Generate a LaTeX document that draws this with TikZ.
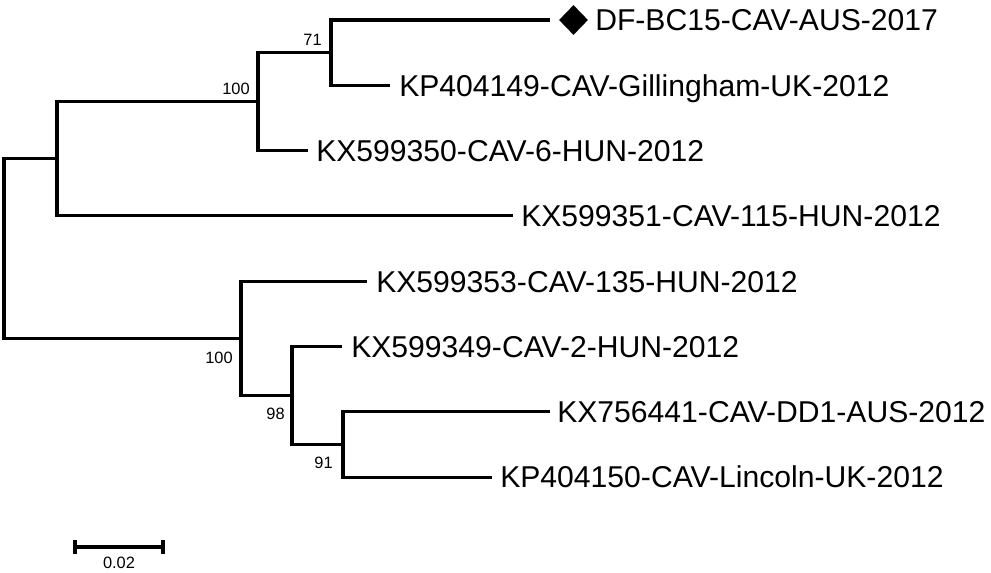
\documentclass[tikz,border=0pt]{standalone}
\usepackage{fontspec}
\setmainfont{Liberation Sans}
\usetikzlibrary{shapes.geometric,calc}
\begin{document}
\begin{tikzpicture}[x=0.75pt,y=-0.75pt,
  branch/.style={line width=2.3pt, line join=miter},
  taxon/.style={anchor=base west, inner sep=0pt, font=\fontsize{22.6}{26}\selectfont},
  bootup/.style={anchor=south east, inner sep=0pt, font=\fontsize{12.3}{14}\selectfont},
  bootdown/.style={anchor=north east, inner sep=0pt, font=\fontsize{12.3}{14}\selectfont},
  mark diamond/.style={diamond, fill=black, inner sep=0pt, minimum width=21.75pt, minimum height=22.5pt},
]
\useasboundingbox (0,0) rectangle (991,572);
% internal nodes
\coordinate (root) at (4,248.55);
\coordinate (A) at (57,158.75);
\coordinate (B) at (258,101.6);
\coordinate (C) at (331,52.65);
\coordinate (D) at (241,338.35);
\coordinate (E) at (292,395.5);
\coordinate (F) at (343,444.45);
% tips
\coordinate (t1) at (550,20);
\coordinate (t2) at (390,85.3);
\coordinate (t3) at (308,150.6);
\coordinate (t4) at (513,215.9);
\coordinate (t5) at (367,281.2);
\coordinate (t6) at (342,346.5);
\coordinate (t7) at (550,411.8);
\coordinate (t8) at (492,477.1);
% branches
\draw[branch] (root) |- (A);
\draw[branch] (root) |- (D);
\draw[branch] (A) |- (B);
\draw[branch] (A) |- (t4);
\draw[branch] (B) |- (C);
\draw[branch] (B) |- (t3);
\draw[branch] (C) |- (t1);
\draw[branch] (C) |- (t2);
\draw[branch] (D) |- (t5);
\draw[branch] (D) |- (E);
\draw[branch] (E) |- (t6);
\draw[branch] (E) |- (F);
\draw[branch] (F) |- (t7);
\draw[branch] (F) |- (t8);
% taxa
\node[mark diamond] (dm) at ($(t1)+(23.5,0)$) {};
\node[taxon] (n1) at ($(t1)+(45,10.8)$) {DF-BC15-CAV-AUS-2017};
\node[taxon] (n2) at ($(t2)+(9,10.8)$) {KP404149-CAV-Gillingham-UK-2012};
\node[taxon] (n3) at ($(t3)+(8,10.8)$) {KX599350-CAV-6-HUN-2012};
\node[taxon] (n4) at ($(t4)+(8,10.8)$) {KX599351-CAV-115-HUN-2012};
\node[taxon] (n5) at ($(t5)+(9,10.8)$) {KX599353-CAV-135-HUN-2012};
\node[taxon] (n6) at ($(t6)+(9,10.8)$) {KX599349-CAV-2-HUN-2012};
\node[taxon] (n7) at ($(t7)+(7,10.8)$) {KX756441-CAV-DD1-AUS-2012};
\node[taxon] (n8) at ($(t8)+(8,10.8)$) {KP404150-CAV-Lincoln-UK-2012};
% bootstrap values
\node[bootup] (bB) at ($(B)+(-8,-7)$) {100};
\node[bootup] (bC) at ($(C)+(-9,-7)$) {71};
\node[bootdown] (bD) at ($(D)+(-8,13)$) {100};
\node[bootdown] (bE) at ($(E)+(-7,12)$) {98};
\node[bootdown] (bF) at ($(F)+(-10,12)$) {91};
% scale bar
\coordinate (sbL) at (75,547);
\coordinate (sbR) at (163,547);
\draw[branch] (sbL) -- (sbR);
\draw[branch] ($(sbL)+(0,-7)$) -- ($(sbL)+(0,7)$);
\draw[branch] ($(sbR)+(0,-7)$) -- ($(sbR)+(0,7)$);
\node[inner sep=0pt, font=\fontsize{12.3}{14}\selectfont] (sblab) at (119,563) {0.02};
\end{tikzpicture}
\end{document}
